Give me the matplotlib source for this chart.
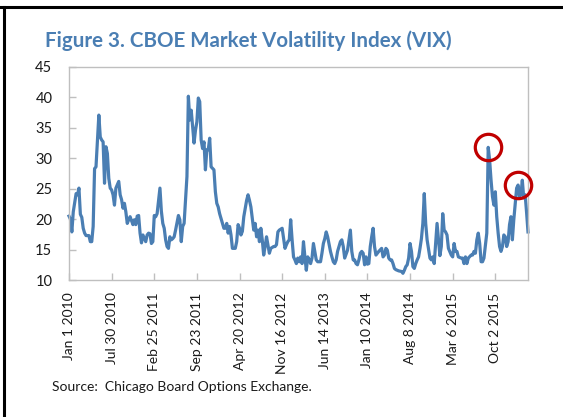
import matplotlib
matplotlib.use("Agg")
import matplotlib.pyplot as plt
import numpy as np
import pandas as pd
from matplotlib.lines import Line2D

plt.rcParams['font.family'] = ['Lato', 'DejaVu Sans']

# ---- data -------------------------------------------------------------
start_date = "2010-01-01"
week_index = [0, 1, 2, 3, 5, 6, 7, 8, 9, 10, 11, 12, 14, 15, 16, 17, 18, 19, 21, 22,
              23, 24, 25, 26, 27, 28, 29, 30, 31, 32, 33, 35, 36, 37, 38, 39, 40, 41, 42, 43,
              45, 46, 47, 48, 49, 50, 51, 52, 54, 55, 56, 57, 58, 59, 60, 61, 62, 64, 65, 66,
              67, 68, 69, 70, 71, 72, 73, 74, 75, 77, 78, 79, 80, 81, 82, 83, 84, 85, 86, 88,
              89, 90, 91, 92, 93, 94, 95, 96, 97, 98, 99, 100, 102, 103, 104, 105, 106, 108, 109, 110,
              111, 112, 113, 114, 115, 117, 118, 119, 120, 121, 122, 123, 125, 126, 127, 128, 130, 131, 132, 133,
              134, 135, 136, 137, 138, 139, 140, 141, 142, 144, 145, 146, 147, 148, 150, 151, 152, 153, 154, 155,
              156, 157, 158, 159, 160, 161, 162, 163, 164, 165, 166, 167, 168, 169, 170, 171, 172, 173, 174, 175,
              177, 178, 179, 180, 181, 182, 184, 185, 186, 187, 188, 189, 191, 192, 193, 194, 196, 197, 198, 199,
              200, 201, 202, 203, 204, 205, 206, 207, 208, 209, 210, 211, 212, 213, 214, 215, 216, 217, 218, 220,
              221, 222, 223, 224, 225, 226, 227, 228, 229, 230, 231, 232, 234, 235, 236, 237, 238, 239, 240, 241,
              242, 243, 244, 245, 246, 247, 248, 249, 250, 251, 252, 254, 255, 256, 257, 259, 261, 262, 263, 264,
              265, 266, 267, 269, 270, 271, 272, 273, 274, 276, 277, 278, 279, 280, 281, 283, 284, 285, 286, 287,
              288, 289, 290, 291, 292, 294, 295, 296, 297, 298, 299, 300, 301, 302, 303, 304, 305, 306, 307, 308,
              309, 310, 311, 312, 313, 314, 315, 316, 317, 318, 319, 320, 321, 322, 323]
vix = [20.5, 20.0, 17.9, 21.2, 24.2, 24.0, 25.1, 20.8, 20.3, 18.5, 17.7, 17.3, 17.3, 16.3, 16.3, 18.8, 28.3, 28.6, 37.1, 33.5,
       33.0, 32.7, 25.9, 31.9, 30.8, 26.7, 25.1, 24.8, 24.0, 22.3, 25.1, 26.2, 24.0, 23.2, 21.8, 22.6, 21.2, 19.3, 19.9, 20.4,
       19.1, 19.9, 19.1, 20.5, 20.6, 17.7, 16.1, 17.4, 16.3, 17.4, 17.7, 17.6, 16.0, 16.3, 20.6, 20.4, 20.9, 25.1, 21.3, 19.3,
       18.5, 16.6, 15.5, 15.2, 17.1, 16.6, 16.8, 17.1, 18.2, 20.6, 19.9, 16.3, 18.8, 19.3, 23.1, 27.0, 40.2, 36.3, 37.9, 32.5,
       34.6, 36.0, 39.9, 39.3, 33.0, 31.6, 32.7, 28.1, 31.4, 31.4, 33.3, 28.6, 28.1, 24.5, 22.6, 22.0, 20.9, 19.3, 18.5, 18.5,
       19.3, 17.7, 18.8, 17.4, 15.2, 15.2, 16.3, 19.1, 18.5, 17.4, 18.0, 20.4, 23.1, 24.0, 23.1, 22.0, 18.2, 19.3, 17.1, 18.2,
       16.3, 18.5, 16.6, 14.1, 15.5, 17.1, 15.8, 14.4, 15.2, 15.5, 15.5, 15.8, 17.9, 18.2, 18.5, 16.8, 15.2, 15.8, 16.3, 16.6,
       19.9, 16.6, 13.8, 13.3, 12.7, 13.6, 13.0, 13.8, 12.7, 16.3, 13.8, 11.6, 13.8, 13.3, 12.7, 13.6, 16.0, 14.7, 13.3, 13.0,
       13.0, 14.4, 16.0, 16.8, 17.9, 17.1, 14.7, 13.8, 13.0, 12.7, 13.3, 14.7, 16.3, 16.6, 15.5, 13.6, 14.9, 16.6, 18.2, 14.7,
       13.3, 13.3, 12.7, 12.5, 13.3, 14.4, 14.7, 14.4, 12.5, 13.8, 12.6, 12.7, 15.5, 17.1, 18.5, 15.5, 14.1, 14.4, 14.7, 15.2,
       13.8, 14.1, 15.2, 14.9, 13.6, 13.3, 13.3, 12.7, 11.9, 11.7, 11.6, 11.5, 11.4, 11.1, 11.6, 12.2, 12.5, 13.6, 16.0, 14.7,
       12.2, 11.9, 12.7, 13.3, 13.8, 15.2, 16.8, 19.3, 24.2, 19.3, 16.6, 13.6, 13.3, 13.8, 12.7, 19.3, 14.0, 15.5, 20.9, 18.2,
       17.9, 17.4, 15.2, 14.1, 13.8, 16.0, 14.7, 14.7, 13.8, 13.6, 13.6, 12.7, 13.8, 12.7, 13.6, 14.1, 14.1, 14.7, 14.4, 16.6,
       17.7, 16.0, 13.0, 13.0, 13.6, 17.7, 31.8, 29.7, 26.4, 23.7, 22.3, 24.5, 20.4, 17.7, 15.5, 14.7, 15.5, 17.4, 17.1, 15.5,
       16.3, 19.1, 20.4, 16.6, 19.9, 22.6, 25.1, 25.6, 23.7, 24.0, 26.4, 23.5, 24.0, 21.1, 17.9]
tick_labels = ["Jan 1 2010", "Jul 30 2010", "Feb 25 2011", "Sep 23 2011", "Apr 20 2012",
               "Nov 16 2012", "Jun 14 2013", "Jan 10 2014", "Aug 8 2014", "Mar 6 2015", "Oct 2 2015"]
y_ticks = [10, 15, 20, 25, 30, 35, 40, 45]
highlight_weeks = [295, 316]

title = "Figure 3. CBOE Market Volatility Index (VIX)"
source = "Source:  Chicago Board Options Exchange."

# ---- derived ------------------------------------------------------------
dates = pd.Timestamp(start_date) + pd.to_timedelta(np.array(week_index) * 7, unit="D")
series = pd.Series(vix, index=dates)
tick_dates = pd.to_datetime(tick_labels, format="%b %d %Y")
hl = series.loc[[pd.Timestamp(start_date) + pd.Timedelta(days=7 * w) for w in highlight_weeks]]

W, H = 563, 417
fig = plt.figure(figsize=(W / 100, H / 100), dpi=100)
ax = fig.add_axes([69 / W, 1 - 280 / H, (528 - 69) / W, (280 - 67) / H])

line_color = "#4A7EB3"
ax.plot(series.index, series.values, color=line_color, lw=2.3,
        solid_joinstyle="round", clip_on=False)
ax.plot(hl.index, hl.values, linestyle="none", marker="o", markersize=19,
        markerfacecolor="none", markeredgecolor="#C00000", markeredgewidth=2.3,
        clip_on=False, zorder=5)

ax.set_xlim(series.index[0], series.index[-1])
ax.set_ylim(10, 45)
ax.set_yticks(y_ticks)
ax.set_xticks(tick_dates)
ax.set_xticklabels(tick_labels, rotation=90, fontsize=10, color="#1a1a1a")
ax.set_yticklabels([str(v) for v in y_ticks], fontsize=10.5, color="#1a1a1a")
ax.tick_params(axis="both", direction="in", length=5, color="#BFBFBF", width=1)
ax.tick_params(axis="y", pad=12)
ax.tick_params(axis="x", pad=9)
for s in ax.spines.values():
    s.set_color("#BFBFBF")
    s.set_linewidth(1)

fig.text(45 / W, 1 - 47 / H, title, fontsize=14.8, fontweight="bold",
         color="#4A7EB3", ha="left", va="baseline")
fig.text(52 / W, 1 - 391 / H, source, fontsize=10, color="#1a1a1a",
         ha="left", va="baseline")

# outer frame (top and left)
fig.add_artist(Line2D([0, 1], [1 - 7 / H, 1 - 7 / H], transform=fig.transFigure,
                      color="black", lw=2.2))
fig.add_artist(Line2D([4 / W, 4 / W], [0, 1 - 7 / H], transform=fig.transFigure,
                      color="black", lw=2.2))

fig.savefig("out.png", dpi=100)
